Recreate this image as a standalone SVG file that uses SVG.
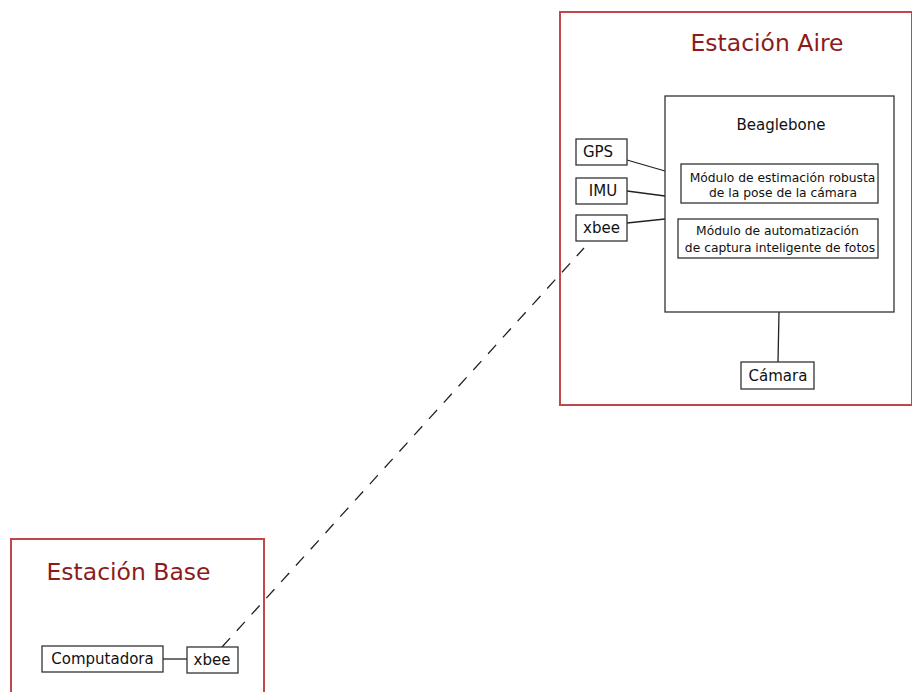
<svg xmlns="http://www.w3.org/2000/svg" width="912" height="692" viewBox="0 0 912 692">
<style>
.cont{fill:none;stroke:#c0474a;stroke-width:2}
.box{fill:#fff;stroke:#333;stroke-width:1.3}
.title{font-family:"DejaVu Sans",sans-serif;font-size:23.5px;fill:#8e1b1b;text-anchor:middle}
.lbl{font-family:"DejaVu Sans",sans-serif;font-size:15px;fill:#111;text-anchor:middle}
.sm{font-family:"DejaVu Sans",sans-serif;font-size:12.3px;fill:#111;text-anchor:middle}
.ln{stroke:#222;stroke-width:1.3;fill:none}
</style>
<rect width="912" height="692" fill="#fff"/>
<g id="estacion-aire">
<rect class="cont" x="560" y="12" width="352" height="393"/>
<text class="title" x="767" y="51">Estación Aire</text>
</g>
<g id="estacion-base">
<rect class="cont" x="11" y="539" width="253" height="160"/>
<text class="title" x="128.5" y="580">Estación Base</text>
</g>
<g id="connectors">
<line class="ln" x1="627" y1="160" x2="665" y2="171"/>
<line class="ln" x1="627" y1="191" x2="665" y2="196"/>
<line class="ln" x1="627" y1="223" x2="665" y2="219"/>
<line class="ln" x1="779" y1="312" x2="778" y2="362"/>
<line class="ln" x1="163" y1="659" x2="187" y2="659"/>
<line class="ln" x1="222" y1="647" x2="584" y2="248" stroke-dasharray="12 10"/>
</g>
<g id="beaglebone">
<rect class="box" x="665" y="96" width="229" height="216"/>
<text class="lbl" x="781" y="130">Beaglebone</text>
</g>
<g id="modulo-estimacion">
<rect class="box" x="681" y="164" width="197" height="39"/>
<text class="sm" x="782.5" y="182">Módulo de estimación robusta</text>
<text class="sm" x="783" y="197">de la pose de la cámara</text>
</g>
<g id="modulo-automatizacion">
<rect class="box" x="678" y="219" width="200" height="39"/>
<text class="sm" x="777.5" y="235">Módulo de automatización</text>
<text class="sm" x="780" y="252">de captura inteligente de fotos</text>
</g>
<g id="gps">
<rect class="box" x="576" y="139" width="51" height="26"/>
<text class="lbl" x="598" y="157">GPS</text>
</g>
<g id="imu">
<rect class="box" x="576" y="178" width="51" height="26"/>
<text class="lbl" x="603" y="196">IMU</text>
</g>
<g id="xbee-aire">
<rect class="box" x="576" y="215" width="51" height="26"/>
<text class="lbl" x="601.5" y="233">xbee</text>
</g>
<g id="camara">
<rect class="box" x="741" y="362" width="73" height="27"/>
<text class="lbl" x="778" y="381">Cámara</text>
</g>
<g id="computadora">
<rect class="box" x="42" y="646" width="121" height="26"/>
<text class="lbl" x="102.5" y="664">Computadora</text>
</g>
<g id="xbee-base">
<rect class="box" x="187" y="647" width="51" height="26"/>
<text class="lbl" x="212" y="665">xbee</text>
</g>
</svg>
